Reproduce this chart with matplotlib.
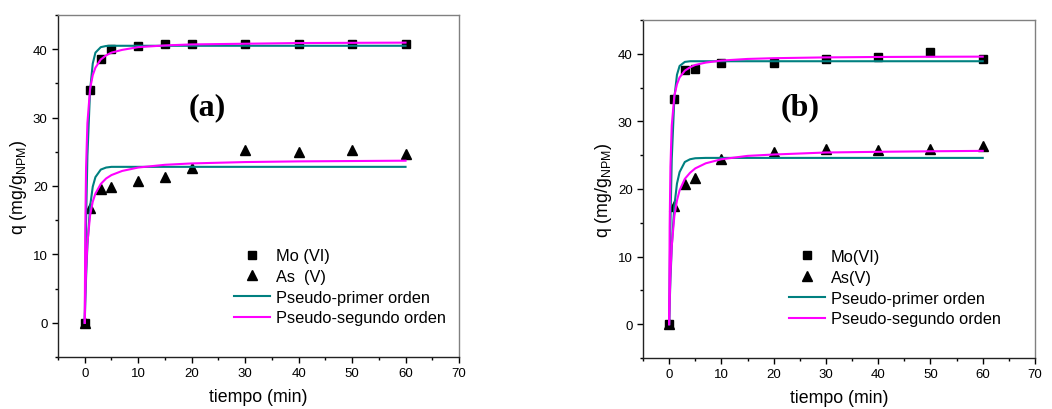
#!/usr/bin/env python
"""
Cinetica de adsorcion de Mo(VI) y As(V) sobre NPM, paneles (a) y (b).
"""

import matplotlib
matplotlib.use("Agg")
import matplotlib.pyplot as plt
from matplotlib.ticker import MultipleLocator

# tiempos experimentales (min)
t_a = [0, 1, 3, 5, 10, 15, 20, 30, 40, 50, 60]
t_b = [0, 1, 3, 5, 10, 20, 30, 40, 50, 60]

mo_a = [0, 34.0, 38.5, 40.0, 40.5, 40.8, 40.8, 40.8, 40.8, 40.8, 40.8]
as_a = [0, 16.8, 19.6, 19.8, 20.8, 21.3, 22.6, 25.3, 25.0, 25.3, 24.7]
mo_b = [0, 33.3, 37.6, 37.7, 38.7, 38.7, 39.3, 39.5, 40.2, 39.3]
as_b = [0, 17.5, 20.8, 21.6, 24.4, 25.4, 25.9, 25.7, 25.9, 26.3]

# curvas de ajuste
t_fit = [0, 0.1, 0.25, 0.5, 1, 1.5, 2, 3, 4, 5, 7, 10, 15, 20, 30, 40, 50, 60]
pfo_mo_a = [0, 6.8, 14.9, 24.4, 34.0, 37.9, 39.5, 40.3, 40.47, 40.5, 40.5,
            40.5, 40.5, 40.5, 40.5, 40.5, 40.5, 40.5]
pso_mo_a = [0, 13.6, 22.7, 29.2, 34.2, 36.2, 37.3, 38.5, 39.1, 39.5, 39.9,
            40.3, 40.55, 40.7, 40.8, 40.9, 40.93, 40.96]
pfo_as_a = [0, 2.9, 6.6, 11.3, 17.0, 19.9, 21.3, 22.4, 22.7, 22.8, 22.8,
            22.8, 22.8, 22.8, 22.8, 22.8, 22.8, 22.8]
pso_as_a = [0, 3.8, 7.7, 11.6, 15.7, 17.7, 18.9, 20.3, 21.1, 21.6, 22.2,
            22.7, 23.1, 23.3, 23.5, 23.6, 23.65, 23.7]
pfo_mo_b = [0, 7.0, 15.1, 24.4, 33.5, 36.9, 38.2, 38.8, 38.9, 38.9, 38.9,
            38.9, 38.9, 38.9, 38.9, 38.9, 38.9, 38.9]
pso_mo_b = [0, 14.4, 23.3, 29.4, 33.8, 35.5, 36.5, 37.5, 38.0, 38.35, 38.7,
            39.0, 39.24, 39.35, 39.47, 39.53, 39.56, 39.58]
pfo_as_b = [0, 2.9, 6.6, 11.4, 17.5, 20.8, 22.5, 24.0, 24.4, 24.55, 24.6,
            24.6, 24.6, 24.6, 24.6, 24.6, 24.6, 24.6]
pso_as_b = [0, 3.6, 7.5, 11.6, 16.0, 18.3, 19.8, 21.5, 22.4, 23.05, 23.8,
            24.4, 24.9, 25.1, 25.4, 25.5, 25.58, 25.64]

labels_a = ["Mo (VI)", "As  (V)", "Pseudo-primer orden", "Pseudo-segundo orden"]
labels_b = ["Mo(VI)", "As(V)", "Pseudo-primer orden", "Pseudo-segundo orden"]

plt.rcParams["font.family"] = ["Liberation Sans", "DejaVu Sans"]
plt.rcParams["mathtext.fontset"] = "custom"
plt.rcParams["mathtext.rm"] = "Liberation Sans"

teal = "#008080"
magenta = "#ff00ff"


def panel(ax, t, mo, ars, fits, labels, tag, tag_xy, leg_xy):
    pfo_mo, pso_mo, pfo_as, pso_as = fits
    h1, = ax.plot(t, mo, "s", color="black", ms=6, zorder=3)
    h2, = ax.plot(t, ars, "^", color="black", ms=7, zorder=3)
    h3, = ax.plot(t_fit, pfo_mo, color=teal, lw=1.5, zorder=4)
    ax.plot(t_fit, pfo_as, color=teal, lw=1.5, zorder=4)
    h4, = ax.plot(t_fit, pso_mo, color=magenta, lw=1.5, zorder=5)
    ax.plot(t_fit, pso_as, color=magenta, lw=1.5, zorder=5)

    ax.set_xlim(-5, 70)
    ax.set_ylim(-5, 45)
    ax.xaxis.set_major_locator(MultipleLocator(10))
    ax.xaxis.set_minor_locator(MultipleLocator(5))
    ax.yaxis.set_major_locator(MultipleLocator(10))
    ax.yaxis.set_minor_locator(MultipleLocator(5))
    ax.tick_params(which="both", direction="out", top=False, right=False,
                   labelsize=9.5)
    ax.tick_params(which="major", length=4, width=1)
    ax.tick_params(which="minor", length=2.5, width=1)
    for s in ("top", "right"):
        ax.spines[s].set_color("#808080")
    for s in ("left", "bottom"):
        ax.spines[s].set_color("#222222")
    for s in ax.spines.values():
        s.set_linewidth(1.0)

    ax.set_xlabel("tiempo (min)", fontsize=12.8, labelpad=6)
    ax.set_ylabel(r"q (mg/g$_\mathregular{NPM}$)", fontsize=12.8, labelpad=3)
    ax.text(tag_xy[0], tag_xy[1], tag, fontsize=23, fontweight="bold",
            family="Liberation Serif", ha="center", va="center")
    ax.legend([h1, h2, h3, h4], labels, loc="upper left",
              bbox_to_anchor=leg_xy, frameon=False, fontsize=11.8,
              borderpad=0, borderaxespad=0, handlelength=2.2,
              handletextpad=0.35, labelspacing=0.35, numpoints=1)


fig = plt.figure(figsize=(10.52, 4.10), dpi=100)
W, H = 1052, 410
ax_a = fig.add_axes([58 / W, 1 - 358 / H, 401 / W, 342 / H])
ax_b = fig.add_axes([643 / W, 1 - 359 / H, 392 / W, 338 / H])

panel(ax_a, t_a, mo_a, as_a, (pfo_mo_a, pso_mo_a, pfo_as_a, pso_as_a),
      labels_a, "(a)", (22.9, 31.6), (0.44, 0.318))
panel(ax_b, t_b, mo_b, as_b, (pfo_mo_b, pso_mo_b, pfo_as_b, pso_as_b),
      labels_b, "(b)", (25, 32.1), (0.372, 0.322))

fig.savefig("out.png", dpi=100)
